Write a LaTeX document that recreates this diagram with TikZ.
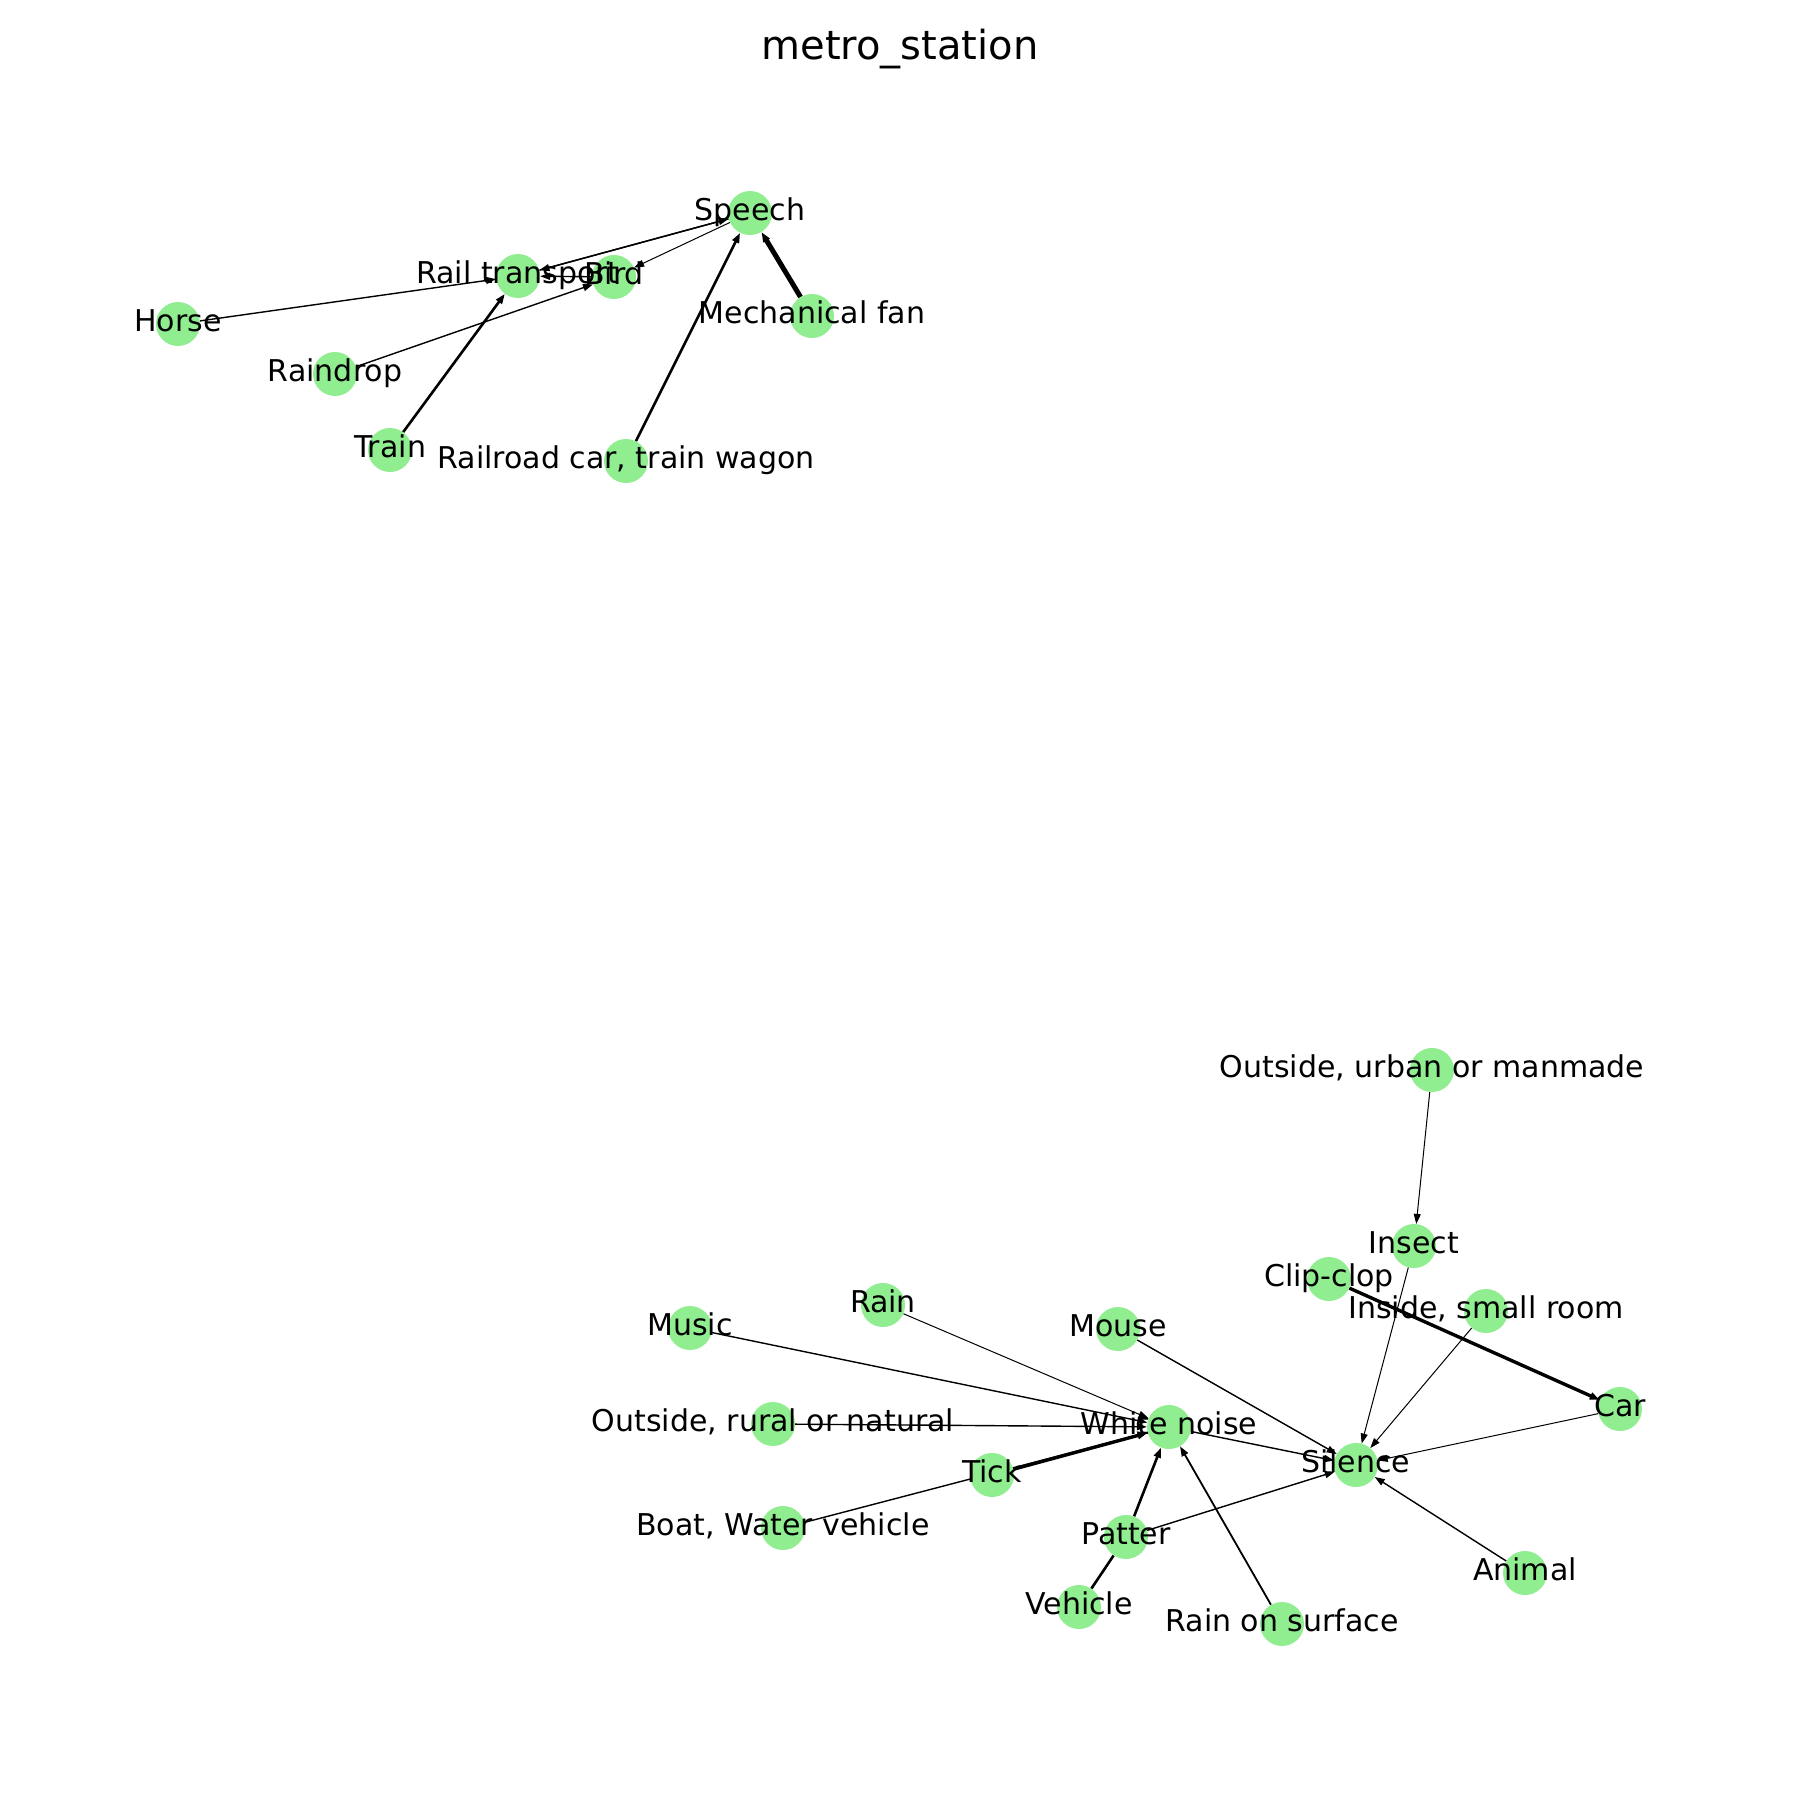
\documentclass[tikz,border=0pt]{standalone}
\usepackage{fontspec}
\setmainfont{DejaVu Sans}
\usetikzlibrary{arrows.meta}
\definecolor{nodegreen}{HTML}{90EE90}
\tikzset{
  vtx/.style={circle, minimum size=44pt, inner sep=0pt, draw=none},
  lbl/.style={font=\fontsize{30}{36}\selectfont, text height=22.8pt, text depth=7.1pt, inner sep=0pt, anchor=center},
  edg/.style={draw=black, line width=1.4pt, -{Triangle[length=10pt,width=7pt]}},
  thn/.style={edg, line width=1pt},
  med/.style={edg, line width=2.6pt},
  thk/.style={edg, line width=3.4pt},
  vthk/.style={edg, line width=5pt},
  plain/.style={draw=black, line width=2.6pt},
}
\begin{document}
\begin{tikzpicture}[x=1pt,y=-1pt]
\useasboundingbox[fill=white] (0,0) rectangle (1800,1800);
% vertex positions
\node[vtx] (speech) at (750,213) {};
\node[vtx] (rail) at (518,276) {};
\node[vtx] (bird) at (614,277) {};
\node[vtx] (horse) at (178,324) {};
\node[vtx] (raindrop) at (335,374) {};
\node[vtx] (fan) at (812,316) {};
\node[vtx] (train) at (390,450) {};
\node[vtx] (railcar) at (626,461) {};
\node[vtx] (urban) at (1432,1070) {};
\node[vtx] (insect) at (1414,1246) {};
\node[vtx] (clip) at (1329,1279) {};
\node[vtx] (room) at (1486,1311) {};
\node[vtx] (music) at (690,1328) {};
\node[vtx] (rain) at (883,1305) {};
\node[vtx] (mouse) at (1118,1329) {};
\node[vtx] (car) at (1620,1409) {};
\node[vtx] (wn) at (1169,1427) {};
\node[vtx] (rural) at (773,1424) {};
\node[vtx] (silence) at (1356,1465) {};
\node[vtx] (tick) at (992,1475) {};
\node[vtx] (boat) at (783,1528) {};
\node[vtx] (patter) at (1126,1537) {};
\node[vtx] (animal) at (1525,1573) {};
\node[vtx] (vehicle) at (1079,1607) {};
\node[vtx] (ros) at (1282,1624) {};
% edges, top component
\draw[edg] (horse) -- (rail);
\draw[edg] (speech) -- (rail);
\draw[edg] (rail) -- (speech);
\draw[edg] (bird) -- (rail);
\draw[thn] (speech) -- (bird);
\draw[edg] (raindrop) -- (bird);
\draw[med] (train) -- (rail);
\draw[med] (railcar) -- (speech);
\draw[vthk] (fan) -- (speech);
% edges, lower component
\draw[thn] (urban) -- (insect);
\draw[thn] (insect) -- (silence);
\draw[thk] (clip) -- (car);
\draw[thn] (room) -- (silence);
\draw[edg] (music) -- (wn);
\draw[thn] (rain) -- (wn);
\draw[edg] (mouse) -- (silence);
\draw[thn] (car) -- (silence);
\draw[edg] (rural) -- (wn);
\draw[edg] (wn) -- (silence);
\draw[thk] (tick) -- (wn);
\draw[edg] (boat) -- (wn);
\draw[med] (patter) -- (wn);
\draw[edg] (patter) -- (silence);
\draw[plain] (vehicle) -- (patter);
\draw[edg, line width=1.8pt] (ros) -- (wn);
\draw[edg] (animal) -- (silence);
% node discs
\foreach \n in {speech,rail,bird,horse,raindrop,fan,train,railcar,urban,insect,clip,room,music,rain,mouse,car,wn,rural,silence,tick,boat,patter,animal,vehicle,ros}
  \fill[nodegreen] (\n.center) circle (22pt);
% labels
\node[lbl] (lspeech) at (speech) {Speech};
\node[lbl] (lrail) at (rail) {Rail transport};
\node[lbl] (lbird) at (bird) {Bird};
\node[lbl] (lhorse) at (horse) {Horse};
\node[lbl] (lraindrop) at (raindrop) {Raindrop};
\node[lbl] (lfan) at (fan) {Mechanical fan};
\node[lbl] (ltrain) at (train) {Train};
\node[lbl] (lrailcar) at (railcar) {Railroad car, train wagon};
\node[lbl] (lurban) at (urban) {Outside, urban or manmade};
\node[lbl] (linsect) at (insect) {Insect};
\node[lbl] (lclip) at (clip) {Clip-clop};
\node[lbl] (lroom) at (room) {Inside, small room};
\node[lbl] (lmusic) at (music) {Music};
\node[lbl] (lrain) at (rain) {Rain};
\node[lbl] (lmouse) at (mouse) {Mouse};
\node[lbl] (lcar) at (car) {Car};
\node[lbl] (lwn) at (wn) {White noise};
\node[lbl] (lrural) at (rural) {Outside, rural or natural};
\node[lbl] (lsilence) at (silence) {Silence};
\node[lbl] (ltick) at (tick) {Tick};
\node[lbl] (lboat) at (boat) {Boat, Water vehicle};
\node[lbl] (lpatter) at (patter) {Patter};
\node[lbl] (lanimal) at (animal) {Animal};
\node[lbl] (lvehicle) at (vehicle) {Vehicle};
\node[lbl] (lros) at (ros) {Rain on surface};
\node[font=\fontsize{40}{48}\selectfont, anchor=base, inner sep=0pt] (title) at (900,59) {metro\_station};
\end{tikzpicture}
\end{document}
